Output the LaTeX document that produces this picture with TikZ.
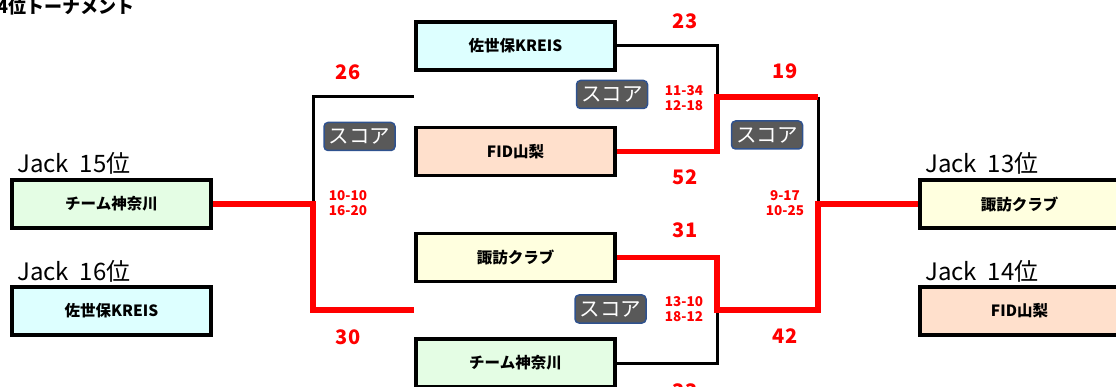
\documentclass[tikz,border=0pt]{standalone}
\usepackage{fontspec}
\setmainfont{Noto Sans CJK JP}
\definecolor{kgreen}{RGB}{228,253,228}
\definecolor{scyan}{RGB}{221,255,255}
\definecolor{fpeach}{RGB}{255,224,204}
\definecolor{syellow}{RGB}{255,255,223}
\definecolor{btngray}{RGB}{89,89,89}
\definecolor{btnblue}{RGB}{47,82,143}
\begin{document}
\begin{tikzpicture}[x=1pt, y=-1pt, node distance={105.7pt},
    team/.style = {draw, line width=3.5pt, minimum width=199pt, minimum height=48pt, inner sep=0pt, font=\fontsize{15.5}{18}\selectfont\bfseries},
    rank/.style = {anchor=base west, inner sep=0pt, font=\fontsize{24}{26}\selectfont},
    pts/.style = {text=red, font=\fontsize{20}{22}\selectfont\bfseries},
    sets/.style = {text=red, align=center, inner sep=0pt, font=\fontsize{13.5}{14.5}\selectfont\bfseries},
    btn/.style = {draw=btnblue, fill=btngray, line width=1.5pt, rounded corners=4pt, minimum width=71pt, minimum height=28pt, inner sep=0pt, text=white, font=\fontsize{20.5}{22}\selectfont},
    lose/.style = {line width=3pt},
    win/.style = {red, line width=5.5pt}]
    \useasboundingbox (0,0) rectangle (1116,387);
    \node[anchor=base west, inner sep=0pt, font=\fontsize{18}{20}\selectfont\bfseries] (title) at (-3,14) {4位トーナメント};

    % teams
    \node[team, fill=kgreen] (L1) at (111.5,204) {チーム神奈川};
    \node[team, fill=scyan]  (L2) [below of=L1, node distance=107pt] {佐世保KREIS};
    \node[team, fill=scyan]   (M1) at (515.5,46) {佐世保KREIS};
    \node[team, fill=fpeach]  (M2) [below of=M1] {FID山梨};
    \node[team, fill=syellow] (M3) [below of=M2] {諏訪クラブ};
    \node[team, fill=kgreen]  (M4) [below of=M3] {チーム神奈川};
    \node[team, fill=syellow] (R1) at (1019.5,204) {諏訪クラブ};
    \node[team, fill=fpeach]  (R2) [below of=R1, node distance=107pt] {FID山梨};

    \node[rank] (r15) at (17,173) {Jack\ \ 15位};
    \node[rank] (r16) at (17,280) {Jack\ \ 16位};
    \node[rank] (r13) at (925,173) {Jack\ \ 13位};
    \node[rank] (r14) at (925,280) {Jack\ \ 14位};

    % bracket
    \coordinate (a1) at (414,97);
    \coordinate (a2) at (414,310);
    \coordinate (lj) at (313,204);
    \coordinate (j1) at (717,97);
    \coordinate (j2) at (717,310);
    \coordinate (rt) at (818,97);
    \coordinate (rj) at (818,204);
    \draw[lose] (a1) -| (lj);
    \draw[lose] (M1.east) -| (j1);
    \draw[lose] (M4.east) -| (j2);
    \draw[lose] (rt) -- (rj);
    \draw[win] (L1.east) -- (lj) |- (a2);
    \draw[win] (M2.east) -| (j1) -- (rt);
    \draw[win] (M3.east) -| (j2) -| (rj) -- (R1.west);

    % scores
    \node[pts] (p26) at (348,72) {26};
    \node[pts] (p30) at (348,337) {30};
    \node[pts] (p23) at (685,21) {23};
    \node[pts] (p52) at (685,177) {52};
    \node[pts] (p31) at (685,230) {31};
    \node[pts] (p33) at (685,391) {33};
    \node[pts] (p19) at (785,71) {19};
    \node[pts] (p42) at (785,336) {42};
    \node[sets] (s1) at (348,203) {10-10\\16-20};
    \node[sets] (s2) at (684,98) {11-34\\12-18};
    \node[sets] (s3) at (684,309) {13-10\\18-12};
    \node[sets] (s4) at (785,203) {9-17\\10-25};

    \node[btn] (b1) at (359.5,136.5) {スコア};
    \node[btn] (b2) at (612,94.5) {スコア};
    \node[btn] (b3) at (767,135) {スコア};
    \node[btn] (b4) at (610.5,309) {スコア};
\end{tikzpicture}
\end{document}
